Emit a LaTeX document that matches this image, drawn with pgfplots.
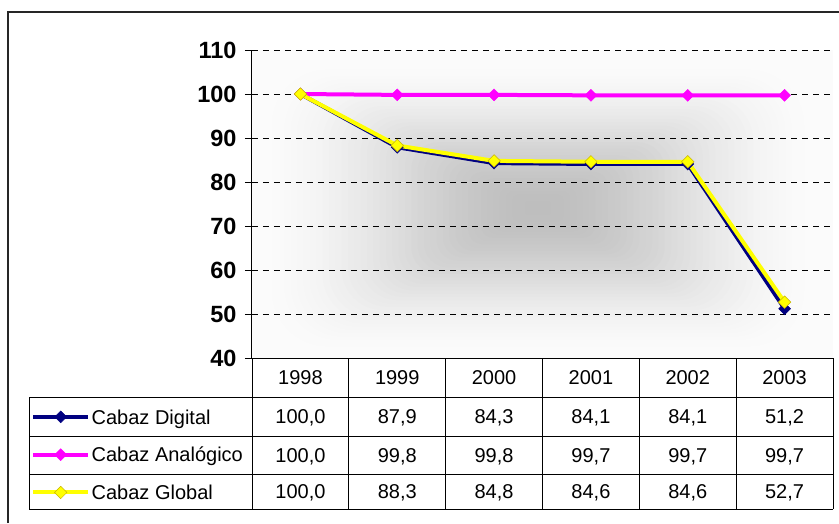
\documentclass[border=0pt]{standalone}
\usepackage{pgfplots}
\usepackage{pgfplotstable}
\pgfplotsset{compat=1.18}
\usepackage{fontspec}
\setmainfont{Liberation Sans}
\definecolor{cdig}{RGB}{0,0,128}
\definecolor{cana}{RGB}{255,0,255}
\definecolor{cglo}{RGB}{255,255,0}
\definecolor{cgloedge}{RGB}{200,180,0}
\pgfplotstableread{
x dig ana glo
0 100.0 100.0 100.0
1 87.9 99.8 88.3
2 84.3 99.8 84.8
3 84.1 99.7 84.6
4 84.1 99.7 84.6
5 51.2 99.7 52.7
}\datatab
\begin{document}
\begin{tikzpicture}
\path[use as bounding box] (0pt,0pt) rectangle (839pt,-523pt);
% background gradient of the plot area (rectangular, from centre)
\begin{scope}[x=1pt, y=-1pt]
  \fill[white!98.5!black] (252,50) rectangle (833,358);
  \foreach \i in {0,...,44} {
    \pgfmathsetmacro\t{1-\i/45}
    \pgfmathsetmacro\f{3*\t*\t-2*\t*\t*\t}
    \pgfmathsetmacro\g{0.745+(0.985-0.745)*\f}
    \definecolor{bgc}{gray}{\g}
    \fill[bgc, rounded corners={\t*60pt}] ({538-\t*285},{208-\t*148}) rectangle ({538+\t*285},{208+\t*148});
  }
\end{scope}
\begin{axis}[
  scale only axis,
  width=581pt, height=308pt,
  at={(252pt,-358pt)}, anchor=south west,
  xmin=-0.5, xmax=5.5, ymin=40, ymax=110,
  ytick={40,50,...,110},
  xtick=\empty,
  axis lines*=left,
  axis line style={black, line width=1pt},
  tick align=outside,
  major tick length=7pt,
  tick style={black, line width=1pt},
  ymajorgrids,
  major grid style={black, line width=0.8pt, dash pattern=on 6pt off 5pt},
  /pgf/number format/assume math mode=true,
  yticklabel style={font=\fontsize{23.5}{27}\selectfont\bfseries, xshift=-5pt},
  legend style={draw=none, fill=none, inner sep=0pt,
    at={(axis description cs:-0.3804,-0.1672)}, anchor=north west,
    row sep=23.5pt, column sep=1.5pt,
    font=\fontsize{20}{24}\selectfont,
    nodes={inner sep=0pt, text height=14.3pt, text depth=0pt},
    cells={anchor=west}},
  legend cell align=left,
  legend image code/.code={\draw[mark repeat=2,mark phase=2] plot coordinates {(0pt,0pt)(27.5pt,0pt)(55pt,0pt)};},
]
\addplot[cdig, line width=4pt, mark=square*, mark size=4.2pt,
  mark options={rotate=45, solid, fill=cdig, draw=cdig, line width=0.5pt}]
  table[x=x,y=dig]{\datatab};
\addlegendentry{Cabaz Digital}
\addplot[cana, line width=4pt, mark=square*, mark size=4.2pt,
  mark options={rotate=45, solid, fill=cana, draw=cana, line width=0.5pt}]
  table[x=x,y=ana]{\datatab};
\addlegendentry{Cabaz Analógico}
\addplot[cglo, line width=4pt, mark=square*, mark size=4.4pt,
  mark options={rotate=45, solid, fill=cglo, draw=cgloedge, line width=0.5pt}]
  table[x=x,y=glo]{\datatab};
\addlegendentry{Cabaz Global}
\end{axis}
\begin{scope}[x=1pt, y=-1pt, font=\fontsize{20}{24}\selectfont]
  % outer frame
  \draw[black!85, line width=1.3pt] (8,523) -- (8,12) -- (839,12);
  % table lines
  \draw[black, line width=1pt] (252,358) -- (833,358);
  \foreach \yy in {397,436,474,509} \draw[black, line width=1pt] (29,\yy) -- (833,\yy);
  \draw[black, line width=1pt] (29,397) -- (29,509);
  \foreach \k in {0,...,6} \draw[black, line width=1pt] ({252+96.833*\k},358) -- ({252+96.833*\k},509);
  % header years
  \foreach \t [count=\i from 0] in {1998,1999,2000,2001,2002,2003}
    \node[inner sep=0pt, text height=14.3pt, text depth=0pt] at ({252+96.833*(\i+0.5)},377.5) {\t};
  \foreach \t [count=\i from 0] in {100{,}0,87{,}9,84{,}3,84{,}1,84{,}1,51{,}2}
    \node[inner sep=0pt, text height=14.3pt, text depth=0pt] at ({252+96.833*(\i+0.5)},416.5) {\t};
  \foreach \t [count=\i from 0] in {100{,}0,99{,}8,99{,}8,99{,}7,99{,}7,99{,}7}
    \node[inner sep=0pt, text height=14.3pt, text depth=0pt] at ({252+96.833*(\i+0.5)},455) {\t};
  \foreach \t [count=\i from 0] in {100{,}0,88{,}3,84{,}8,84{,}6,84{,}6,52{,}7}
    \node[inner sep=0pt, text height=14.3pt, text depth=0pt] at ({252+96.833*(\i+0.5)},491.5) {\t};
\end{scope}
\end{tikzpicture}
\end{document}
